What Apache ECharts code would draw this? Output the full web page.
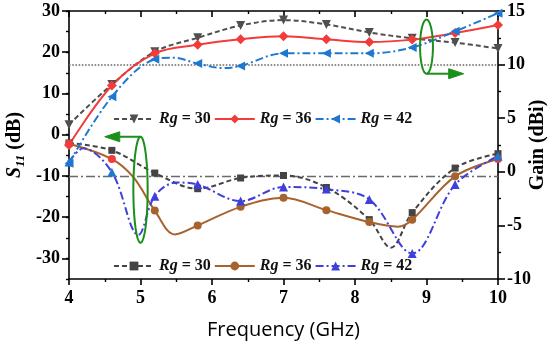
<!DOCTYPE html>
<html><head><meta charset="utf-8">
<script src="https://cdn.jsdelivr.net/npm/echarts@6/dist/echarts.min.js"></script>
<style>html,body{margin:0;padding:0;background:#fff}#c{width:550px;height:346px}</style>
</head><body><div id="c"></div>
<script>
// ---- data ----
const markerFreqs = [4, 4.6, 5.2, 5.8, 6.4, 7.0, 7.6, 8.2, 8.8, 9.4, 10];
const rgValues = [30, 36, 42];
// Gain (dBi), right axis
const gain30 = [[4,4.4],[4.6,8.15],[5.2,11.2],[5.8,12.5],[6.4,13.65],[7.0,14.15],[7.6,13.75],[8.2,13.0],[8.8,12.45],[9.4,12.05],[10,11.5]];
const gain36 = [[4,2.5],[4.6,8.05],[5.2,11.05],[5.8,11.85],[6.4,12.36],[7.0,12.65],[7.6,12.36],[8.2,12.1],[8.8,12.33],[9.4,12.95],[10,13.7]];
const gain42 = [[4,0.8],[4.6,7.0],[5.2,10.5],[5.45,10.65],[5.8,10.1],[6.15,9.68],[6.4,9.88],[7.0,11.05],[7.6,11.05],[8.2,11.05],[8.8,11.6],[9.4,13.1],[10,14.8]];
// S11 (dB), left axis
const s11_30 = [[4,-2.0],[4.6,-3.8],[5.2,-9.3],[5.8,-13.1],[6.4,-10.5],[7.0,-9.9],[7.6,-12.8],[8.2,-20.6],[8.5,-27.4],[8.8,-18.9],[9.4,-8.1],[10,-4.6]];
const s11_36 = [[4,-2.2],[4.6,-5.9],[4.9,-10.3],[5.2,-18.4],[5.48,-24.2],[5.8,-22.0],[6.4,-17.5],[7.0,-15.3],[7.6,-18.3],[8.2,-21.2],[8.6,-22.3],[8.8,-20.6],[9.4,-10.1],[10,-5.9]];
const s11_42 = [[4,-6.6],[4.2,-3.3],[4.6,-9.1],[4.97,-24.3],[5.2,-14.9],[5.5,-11.6],[5.8,-12.1],[6.4,-16.1],[7.0,-12.7],[7.6,-13.2],[8.2,-15.7],[8.8,-28.8],[9.4,-12.1],[10,-5.2]];
// axis tick labels and reference levels
const s11TickLabels = [-30,-20,-10,0,10,20,30];
const gainRefLevel = [10];
const s11RefLevel = [-10];
// annotation anchors (data units)
const s11Ellipse = {f:5.0, top:-0.5, bottom:-26.2, halfW:0.1, arrowTip:4.5};
const gainEllipse = {f:9.0, top:14.2, bottom:9.15, halfW:0.09, arrowTip:9.52};

// ---- styles ----
const SERIF = 'Liberation Serif';
const BLACK = '#000';
const GREEN = '#1a8f1a';
const C_G30 = '#4f4f4f', C_RED = '#f23b3b', C_BLUE = '#1e78d2';
const C_S30 = '#444444', C_BROWN = '#a8622e', C_VIOLET = '#3f3fdc';

function markerSize(size){
  return function(val){ return markerFreqs.some(f => Math.abs(f - val[0]) < 1e-6) ? size : 0; };
}
const axisLineStyle = {color:BLACK, width:1.6};
const legendText = {
  fontFamily:SERIF, fontWeight:'bold', fontSize:16, color:'#111',
  rich:{
    i:{fontFamily:SERIF, fontWeight:'bold', fontStyle:'italic', fontSize:16, color:'#111'},
    n:{fontFamily:SERIF, fontWeight:'bold', fontSize:16, color:'#111'}
  }
};
const legendFmt = name => '{i|Rg}{n| = ' + name.slice(1) + '}';
const tickLabel = {fontFamily:SERIF, fontWeight:'bold', fontSize:18, color:BLACK};

function lineSeries(name, yIdx, data, color, dash, symbol, rot, size){
  return {
    name, type:'line', xAxisIndex:0, yAxisIndex:yIdx, data,
    smooth:0.35, showAllSymbol:true, symbol, symbolRotate:rot, symbolSize:markerSize(size),
    lineStyle:{color, width:2, type:dash}, itemStyle:{color}, emphasis:{disabled:true}, z:3
  };
}

const series = [
  lineSeries('S' + rgValues[0], 0, s11_30, C_S30, [5,3], 'rect', 0, 7),
  lineSeries('S' + rgValues[1], 0, s11_36, C_BROWN, 'solid', 'circle', 0, 8),
  lineSeries('S' + rgValues[2], 0, s11_42, C_VIOLET, [8,3,2,3], 'triangle', 0, 9),
  lineSeries('G' + rgValues[0], 1, gain30, C_G30, [5,3], 'triangle', 180, 9),
  lineSeries('G' + rgValues[1], 1, gain36, C_RED, 'solid', 'diamond', 0, 10),
  lineSeries('G' + rgValues[2], 1, gain42, C_BLUE, [8,3,2,3], 'triangle', 90, 9)
];
series[0].markLine = {silent:true, symbol:['none','none'], label:{show:false},
  lineStyle:{color:'#6a6a6a', type:[9,3,2,3], width:1.4}, data:s11RefLevel.map(v => ({yAxis:v})), z:1};
series[3].markLine = {silent:true, symbol:['none','none'], label:{show:false},
  lineStyle:{color:'#6a6a6a', type:'dotted', width:1.6}, data:gainRefLevel.map(v => ({yAxis:v})), z:1};

const option = {
  animation:false,
  backgroundColor:'#fff',
  grid:{left:69, right:52, top:11, bottom:67, containLabel:false, outerBoundsMode:'none'},
  legend:[
    {data:series.slice(3).map(s => s.name), left:108, top:106, itemWidth:40, itemHeight:11, itemGap:3,
     selectedMode:false, formatter:legendFmt, textStyle:legendText},
    {data:series.slice(0,3).map(s => s.name), left:108, top:253, itemWidth:40, itemHeight:11, itemGap:3,
     selectedMode:false, formatter:legendFmt, textStyle:legendText}
  ],
  visualMap:[
    {type:'piecewise', show:false, seriesIndex:1, dimension:1,
     pieces:[{gt:-10, lte:60, color:C_RED},{gt:-80, lte:-10, color:C_BROWN}]},
    {type:'piecewise', show:false, seriesIndex:2, dimension:1,
     pieces:[{gt:-10, lte:60, color:C_BLUE},{gt:-80, lte:-10, color:C_VIOLET}]}
  ],
  xAxis:[
    {type:'value', position:'bottom', min:4, max:10, interval:1,
     axisLine:{show:true, onZero:false, lineStyle:axisLineStyle},
     axisTick:{show:true, inside:false, length:6, lineStyle:axisLineStyle},
     minorTick:{show:true, splitNumber:2, length:3, lineStyle:{color:BLACK, width:1.4}},
     splitLine:{show:false}, minorSplitLine:{show:false},
     axisLabel:Object.assign({margin:10}, tickLabel),
     name:'Frequency (GHz)', nameLocation:'middle', nameGap:41,
     nameTextStyle:{fontFamily:'Open Sans', fontSize:20, color:BLACK}},
    {type:'value', position:'top', min:4, max:10, interval:1,
     axisLine:{show:true, onZero:false, lineStyle:axisLineStyle},
     axisTick:{show:true, inside:true, length:6, lineStyle:axisLineStyle},
     minorTick:{show:true, splitNumber:2, length:3, lineStyle:{color:BLACK, width:1.4}},
     splitLine:{show:false}, axisLabel:{show:false}}
  ],
  yAxis:[
    {type:'value', position:'left', min:-35, max:30, interval:5,
     axisLine:{show:true, onZero:false, lineStyle:axisLineStyle},
     axisTick:{show:true, inside:false, length:7, lineStyle:axisLineStyle, customValues:s11TickLabels},
     splitLine:{show:false},
     axisLabel:Object.assign({margin:9, customValues:s11TickLabels,
       formatter:v => (v % 10 === 0 ? String(v) : '')}, tickLabel),
     name:'{s|S}{sub|11}{n| (dB)}', nameLocation:'middle', nameRotate:90, nameGap:42, nameMoveOverlap:false,
     nameTextStyle:{fontFamily:SERIF, fontWeight:'bold', fontSize:20, color:BLACK,
       rich:{
         s:{fontFamily:SERIF, fontWeight:'bold', fontStyle:'italic', fontSize:20, lineHeight:24, color:BLACK},
         sub:{fontFamily:SERIF, fontWeight:'bold', fontStyle:'italic', fontSize:13, lineHeight:14, verticalAlign:'bottom', color:BLACK},
         n:{fontFamily:SERIF, fontWeight:'bold', fontSize:20, lineHeight:24, color:BLACK}
       }}},
    {type:'value', position:'right', min:-10, max:15, interval:5,
     axisLine:{show:true, onZero:false, lineStyle:axisLineStyle},
     axisTick:{show:true, inside:false, length:7, lineStyle:axisLineStyle},
     minorTick:{show:true, splitNumber:2, length:3, lineStyle:{color:BLACK, width:1.4}},
     splitLine:{show:false}, minorSplitLine:{show:false},
     axisLabel:Object.assign({margin:9}, tickLabel),
     name:'Gain (dBi)', nameLocation:'middle', nameRotate:90, nameGap:30, nameMoveOverlap:false,
     nameTextStyle:{fontFamily:SERIF, fontWeight:'bold', fontSize:20, color:BLACK}},
    {type:'value', position:'left', min:-35, max:30, interval:5,
     axisLine:{show:false}, axisTick:{show:true, inside:false, length:3, lineStyle:{color:BLACK, width:1.4}},
     axisLabel:{show:false}, splitLine:{show:false}}
  ],
  series
};

const chart = echarts.init(document.getElementById('c'), null, {renderer:'canvas'});
chart.setOption(option);

// ---- green annotations (ellipse + arrow), positioned through the axes ----
function ellipseGraphics(e, yIdx, arrowAtTop){
  const P = (x, y) => chart.convertToPixel({xAxisIndex:0, yAxisIndex:yIdx}, [x, y]);
  const t = P(e.f, e.top), b = P(e.f, e.bottom);
  const cx = t[0], cy = (t[1] + b[1]) / 2, ry = (b[1] - t[1]) / 2;
  const rx = P(e.f + e.halfW, e.top)[0] - cx;
  const pts = [];
  for (let i = 0; i < 72; i++) { const a = i / 72 * Math.PI * 2; pts.push([cx + rx * Math.cos(a), cy + ry * Math.sin(a)]); }
  const ay = arrowAtTop ? t[1] : b[1];
  const tip = P(e.arrowTip, 0)[0];
  const dir = tip < cx ? 1 : -1;
  const headLen = 15, headHalf = 5;
  return [
    {type:'polygon', shape:{points:pts}, style:{fill:'none', stroke:GREEN, lineWidth:2}, z:10, silent:true},
    {type:'line', shape:{x1:cx, y1:ay, x2:tip + dir * headLen, y2:ay}, style:{stroke:GREEN, lineWidth:2}, z:10, silent:true},
    {type:'polygon', shape:{points:[[tip, ay],[tip + dir * headLen, ay - headHalf],[tip + dir * headLen, ay + headHalf]]},
     style:{fill:GREEN, stroke:GREEN, lineWidth:1}, z:10, silent:true}
  ];
}
chart.setOption({graphic: ellipseGraphics(s11Ellipse, 0, true).concat(ellipseGraphics(gainEllipse, 1, false))});
</script></body></html>
